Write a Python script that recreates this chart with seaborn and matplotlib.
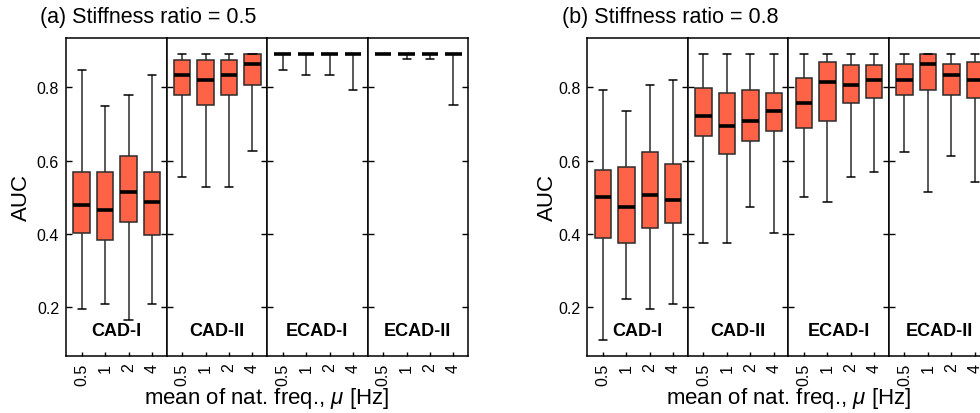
import numpy as np
import pandas as pd
import matplotlib.pyplot as plt
import seaborn as sns

mu_labels = ['0.5', '1', '2', '4']
model_names = ['CAD-I', 'CAD-II', 'ECAD-I', 'ECAD-II']

# five-number summaries read off the boxes: (low whisker, Q1, median, Q3, high whisker)
# one row per mean natural frequency (0.5, 1, 2, 4 Hz)
a_cad1 = [(0.195, 0.403, 0.480, 0.570, 0.848),
          (0.209, 0.383, 0.466, 0.570, 0.750),
          (0.166, 0.432, 0.515, 0.612, 0.778),
          (0.209, 0.396, 0.487, 0.570, 0.835)]
a_cad2 = [(0.556, 0.779, 0.835, 0.875, 0.890),
          (0.527, 0.751, 0.821, 0.875, 0.890),
          (0.527, 0.779, 0.835, 0.875, 0.890),
          (0.626, 0.806, 0.863, 0.890, 0.890)]
a_ecad1 = [(0.848, 0.890, 0.890, 0.890, 0.890),
           (0.835, 0.890, 0.890, 0.890, 0.890),
           (0.835, 0.890, 0.890, 0.890, 0.890),
           (0.794, 0.890, 0.890, 0.890, 0.890)]
a_ecad2 = [(0.890, 0.890, 0.890, 0.890, 0.890),
           (0.877, 0.890, 0.890, 0.890, 0.890),
           (0.877, 0.890, 0.890, 0.890, 0.890),
           (0.751, 0.890, 0.890, 0.890, 0.890)]

b_cad1 = [(0.111, 0.389, 0.500, 0.576, 0.794),
          (0.222, 0.375, 0.473, 0.584, 0.736),
          (0.195, 0.416, 0.507, 0.625, 0.806),
          (0.209, 0.431, 0.494, 0.591, 0.821)]
b_cad2 = [(0.375, 0.667, 0.723, 0.799, 0.890),
          (0.375, 0.619, 0.695, 0.785, 0.890),
          (0.473, 0.653, 0.709, 0.792, 0.890),
          (0.403, 0.680, 0.736, 0.785, 0.890)]
b_ecad1 = [(0.500, 0.688, 0.757, 0.827, 0.890),
           (0.486, 0.709, 0.814, 0.869, 0.890),
           (0.555, 0.757, 0.806, 0.862, 0.890),
           (0.570, 0.772, 0.821, 0.862, 0.890)]
b_ecad2 = [(0.625, 0.779, 0.821, 0.864, 0.890),
           (0.514, 0.793, 0.864, 0.890, 0.890),
           (0.612, 0.779, 0.834, 0.864, 0.890),
           (0.543, 0.772, 0.821, 0.870, 0.890)]

panels = [
    ('(a) Stiffness ratio = 0.5', [a_cad1, a_cad2, a_ecad1, a_ecad2]),
    ('(b) Stiffness ratio = 0.8', [b_cad1, b_cad2, b_ecad1, b_ecad2]),
]

sns.set_style('white')
plt.rcParams['font.family'] = ['Liberation Sans', 'DejaVu Sans']
plt.rcParams['mathtext.fontset'] = 'custom'
plt.rcParams['mathtext.it'] = 'Liberation Sans:italic'
plt.rcParams['mathtext.rm'] = 'Liberation Sans'
plt.rcParams['text.color'] = 'black'
plt.rcParams['axes.labelcolor'] = 'black'
plt.rcParams['xtick.color'] = 'black'
plt.rcParams['ytick.color'] = 'black'

box_color = '#FF6347'
line_color = '#2b2b2b'


def to_frame(summaries):
    # 5 points per group -> numpy quartiles land exactly on Q1/median/Q3
    rows = []
    for mu, stats in zip(mu_labels, summaries):
        for v in stats:
            rows.append({'mu': mu, 'AUC': v})
    return pd.DataFrame(rows)


fig = plt.figure(figsize=(9.8, 4.14), dpi=100)

W, H = 980.0, 414.0
sub_w = 100.5 / W
bottom = 1 - 356.7 / H
height = (356.7 - 39.3) / H
panel_left = [66 / W, 587.3 / W]
title_x = [40 / W, 561.5 / W]
ylabel_x = [21 / W, 547 / W]

for p, (title, groups) in enumerate(panels):
    for i, (name, summaries) in enumerate(zip(model_names, groups)):
        ax = fig.add_axes([panel_left[p] + i * sub_w, bottom, sub_w, height])
        df = to_frame(summaries)
        sns.boxplot(
            data=df, x='mu', y='AUC', order=mu_labels, ax=ax,
            whis=(0, 100), width=0.7, color=box_color, saturation=1,
            linecolor=line_color, linewidth=1.1,
            medianprops=dict(color='black', linewidth=2.6),
            whiskerprops=dict(color=line_color, linewidth=1.1),
            capprops=dict(color='black', linewidth=1.1),
        )
        ax.set_xlim(-0.67, 3.62)
        ax.set_ylim(0.068, 0.934)
        ax.set_yticks([0.2, 0.4, 0.6, 0.8])
        ax.set_xlabel('')
        ax.set_ylabel('')
        for s in ax.spines.values():
            s.set_color('black')
            s.set_linewidth(1.1)
        ax.tick_params(axis='y', direction='in', left=True, right=True,
                       length=4, width=1, labelsize=11.5, pad=5)
        ax.tick_params(axis='x', direction='in', bottom=True, length=3,
                       width=1, labelsize=11.5, labelrotation=90, pad=5)
        if i > 0:
            ax.tick_params(axis='y', labelleft=False)
        ax.text(0.5, 0.079, name, transform=ax.transAxes, ha='center',
                va='center', fontsize=13, fontweight='bold')

    fig.text(title_x[p], 1 - 18 / H, title, ha='left', va='center', fontsize=15.5)
    fig.text(ylabel_x[p], bottom + height / 2, 'AUC', rotation=90,
             ha='center', va='center', fontsize=16)
    fig.text(panel_left[p] + 2 * sub_w, 1 - 399 / H,
             r'mean of nat. freq., $\mu$ [Hz]', ha='center', va='center',
             fontsize=16)

fig.savefig('out.png', dpi=100)
